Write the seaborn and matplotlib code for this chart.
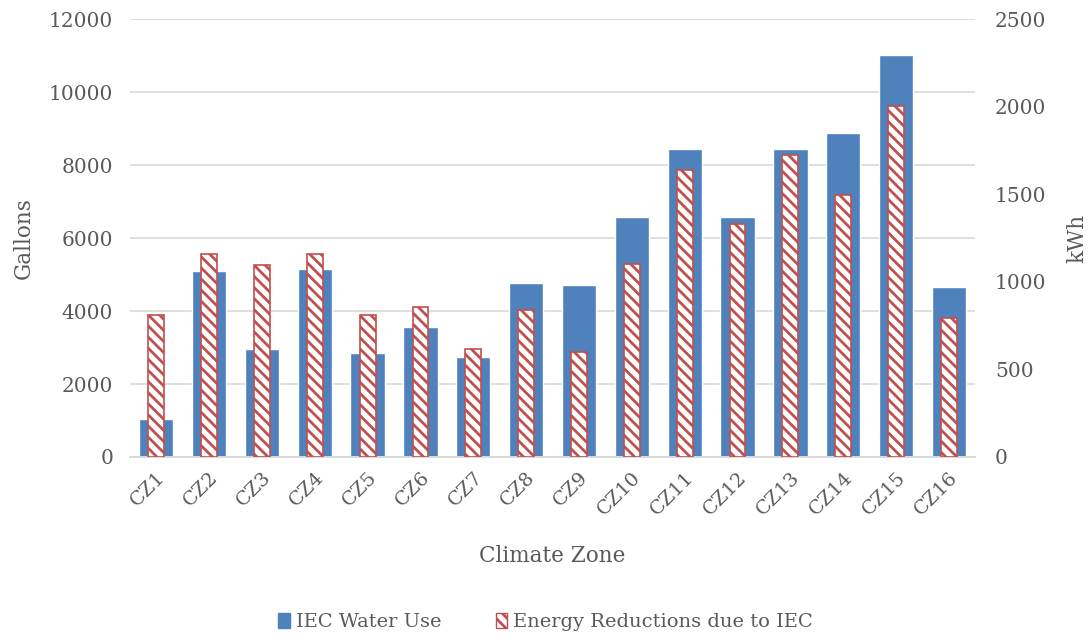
import numpy as np
import pandas as pd
import seaborn as sns
import matplotlib.pyplot as plt
from matplotlib.patches import Patch

# data
zones = ['CZ' + str(i) for i in range(1, 17)]
water_use = [1050, 5100, 2970, 5160, 2860, 3560, 2740, 4770,
             4720, 6580, 8450, 6580, 8450, 8890, 11030, 4660]
energy_red = [809, 1161, 1094, 1161, 809, 856, 615, 841,
              599, 1103, 1640, 1332, 1722, 1494, 2007, 795]

blue = '#4F81BD'
red = '#C0504D'
grey = '#595959'

df = pd.DataFrame({'zone': zones, 'water': water_use, 'energy': energy_red})

sns.set_style('white')
plt.rcParams['font.family'] = ['DejaVu Serif']
plt.rcParams['hatch.color'] = red
plt.rcParams['hatch.linewidth'] = 2.0

fig = plt.figure(figsize=(10.91, 6.4), dpi=100)
ax = fig.add_axes([0.119, 0.286, 0.775, 0.684])
ax2 = ax.twinx()

sns.barplot(data=df, x='zone', y='water', color=blue, width=0.65,
            saturation=1, ax=ax, zorder=2)
sns.barplot(data=df, x='zone', y='energy', color='white', width=0.3,
            saturation=1, ax=ax2, zorder=3)
for p in ax2.patches:
    p.set_hatch('\\\\\\')
    p.set_edgecolor(red)
    p.set_linewidth(1.2)

ax.set_ylim(0, 12000)
ax.set_yticks(np.arange(0, 12001, 2000))
ax2.set_ylim(0, 2500)
ax2.set_yticks(np.arange(0, 2501, 500))
ax.set_xlim(-0.5, 15.5)

ax.yaxis.grid(True, color='#D9D9D9', linewidth=1.2, zorder=0)
ax.set_axisbelow(True)
for a in (ax, ax2):
    for s in ['top', 'left', 'right']:
        a.spines[s].set_visible(False)
    a.spines['bottom'].set_color('#D9D9D9')
    a.spines['bottom'].set_linewidth(1.2)
    a.tick_params(length=0, labelsize=14.5, colors=grey)
ax.tick_params(axis='y', pad=12)
ax2.tick_params(axis='y', pad=14)

ax.set_xticks(range(len(zones)))
ax.set_xticklabels(zones, rotation=45, ha='right', rotation_mode='anchor',
                   fontsize=14, color=grey)
ax.tick_params(axis='x', pad=8)

ax.set_xlabel('Climate Zone', fontsize=15.5, color=grey)
ax.set_ylabel('Gallons', fontsize=15.5, color=grey)
ax2.set_ylabel('kWh', fontsize=15.5, color=grey)
ax.xaxis.set_label_coords(0.5, -0.20)
ax.yaxis.set_label_coords(-0.112, 0.5)
ax2.yaxis.set_label_coords(1.108, 0.5)

handles = [Patch(facecolor=blue, edgecolor=blue, label='IEC Water Use'),
           Patch(facecolor='white', edgecolor=red, hatch='\\\\\\',
                 label='Energy Reductions due to IEC')]
fig.legend(handles=handles, loc='center', bbox_to_anchor=(0.5, 0.028),
           ncol=2, frameon=False, fontsize=14, handlelength=0.6,
           handleheight=0.8, columnspacing=2.8, handletextpad=0.3,
           labelcolor=grey)

fig.savefig('out.png', dpi=100)
